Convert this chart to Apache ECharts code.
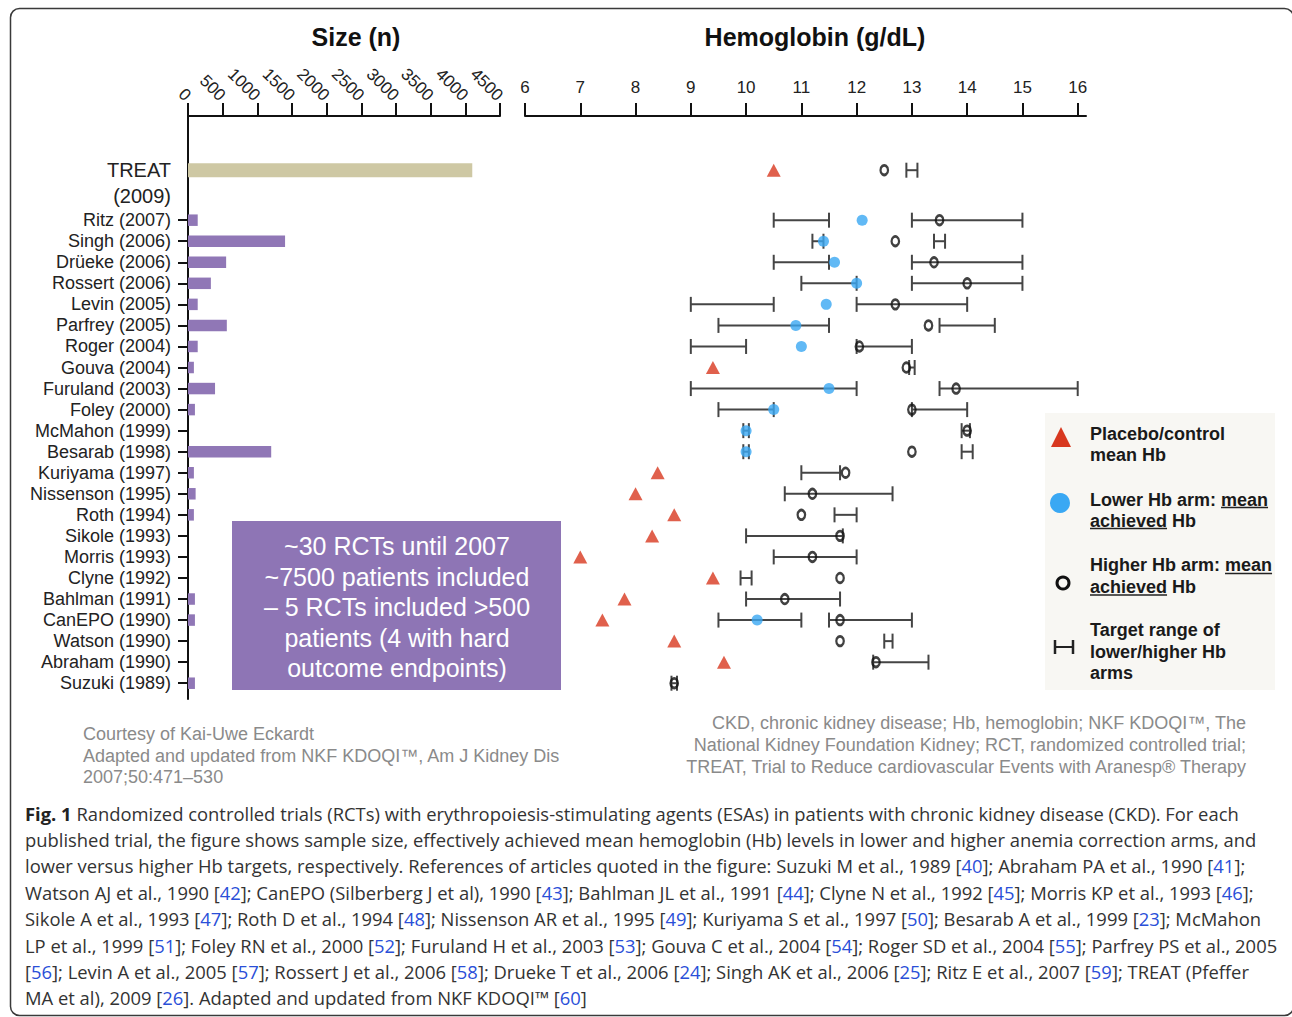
<!DOCTYPE html>
<html><head><meta charset="utf-8">
<script src="https://cdn.jsdelivr.net/npm/echarts@6/dist/echarts.min.js"></script>
<style>html,body{margin:0;padding:0;background:#fff}#c{width:1292px;height:1017px}</style>
</head><body><div id="c"></div>
<script>
// ---------------- data ----------------
const trials = ['TREAT (2009)', 'Ritz (2007)', 'Singh (2006)', 'Drüeke (2006)', 'Rossert (2006)', 'Levin (2005)',
  'Parfrey (2005)', 'Roger (2004)', 'Gouva (2004)', 'Furuland (2003)', 'Foley (2000)', 'McMahon (1999)',
  'Besarab (1998)', 'Kuriyama (1997)', 'Nissenson (1995)', 'Roth (1994)', 'Sikole (1993)', 'Morris (1993)',
  'Clyne (1992)', 'Bahlman (1991)', 'CanEPO (1990)', 'Watson (1990)', 'Abraham (1990)', 'Suzuki (1989)'];
const sizes = [4100, 140, 1400, 550, 330, 140, 560, 140, 85, 390, 100, 0, 1200, 85, 110, 85, 0, 0, 0, 100, 100, 0, 0, 100];
const placeboHb = [10.5, null, null, null, null, null, null, null, 9.4, null, null, null, null, 8.4, 8.0, 8.7, 8.3, 7.0, 9.4, 7.8, 7.4, 8.7, 9.6, null];
const lowAchievedHb = [null, 12.1, 11.4, 11.6, 12.0, 11.45, 10.9, 11.0, null, 11.5, 10.5, 10.0, 10.0, null, null, null, null, null, null, null, 10.2, null, null, null];
const highAchievedHb = [12.5, 13.5, 12.7, 13.4, 14.0, 12.7, 13.3, 12.05, 12.9, 13.8, 13.0, 14.0, 13.0, 11.8, 11.2, 11.0, 11.7, 11.2, 11.7, 10.7, 11.7, 11.7, 12.35, 8.7];
const lowTargetMin = [null, 10.5, 11.2, 10.5, 11.0, 9.0, 9.5, 9.0, null, 9.0, 9.5, 9.95, 9.95, null, null, null, null, null, null, null, 9.5, null, null, null];
const lowTargetMax = [null, 11.5, 11.4, 11.5, 12.0, 10.5, 11.5, 10.0, null, 12.0, 10.5, 10.05, 10.05, null, null, null, null, null, null, null, 11.0, null, null, null];
const highTargetMin = [12.9, 13.0, 13.4, 13.0, 13.0, 12.0, 13.5, 12.0, 12.95, 13.5, 13.0, 13.9, 13.9, 11.0, 10.7, 11.6, 10.0, 10.5, 9.9, 10.0, 11.5, 12.5, 12.3, 8.65];
const highTargetMax = [13.1, 15.0, 13.6, 15.0, 15.0, 14.0, 14.5, 13.0, 13.05, 16.0, 14.0, 14.05, 14.1, 11.7, 12.65, 12.0, 11.75, 12.0, 10.1, 11.7, 13.0, 12.65, 13.3, 8.75];
const sizeTicks = [0, 500, 1000, 1500, 2000, 2500, 3000, 3500, 4000, 4500];
const hbTicks = [6, 7, 8, 9, 10, 11, 12, 13, 14, 15, 16];

// ---------------- layout helpers ----------------
const FONT = '"Liberation Sans", Arial, sans-serif';
const TREAT_ROW = -2.375;
const rowPos = i => (i === 0 ? TREAT_ROW : i - 1);
const rowTicks = trials.slice(1).map((_, i) => i);
const treatLabelPos = TREAT_ROW + 0.62;
const RED = '#d8381f', BLUE = '#3aa8f3', PURPLE = '#9077b6', TAN = '#cec8a4';

function measure(text, font) {
  const c = document.createElement('canvas').getContext('2d');
  c.font = font; return c.measureText(text).width;
}

const barData = sizes.map((s, i) => [s, rowPos(i), i === 0 ? 1 : 0]);
const lowRange = [], highRange = [], placeboPts = [], lowPts = [], highPts = [];
trials.forEach((t, i) => {
  const y = rowPos(i);
  if (lowTargetMin[i] != null) lowRange.push([lowTargetMin[i], lowTargetMax[i], y]);
  if (highTargetMin[i] != null) highRange.push([highTargetMin[i], highTargetMax[i], y]);
  if (placeboHb[i] != null) placeboPts.push([placeboHb[i], y]);
  if (lowAchievedHb[i] != null) lowPts.push([lowAchievedHb[i], y]);
  if (highAchievedHb[i] != null) highPts.push([highAchievedHb[i], y]);
});

function renderRange(params, api) {
  const y = api.value(2);
  const p1 = api.coord([api.value(0), y]);
  const p2 = api.coord([api.value(1), y]);
  const h = 7.5;
  const st = { stroke: '#454545', lineWidth: 2 };
  return { type: 'group', children: [
    { type: 'line', shape: { x1: p1[0], y1: p1[1], x2: p2[0], y2: p2[1] }, style: st },
    { type: 'line', shape: { x1: p1[0], y1: p1[1] - h, x2: p1[0], y2: p1[1] + h }, style: st },
    { type: 'line', shape: { x1: p2[0], y1: p2[1] - h, x2: p2[0], y2: p2[1] + h }, style: st }
  ]};
}

// caption
const capLines = [
  '{b|Fig. 1} Randomized controlled trials (RCTs) with erythropoiesis-stimulating agents (ESAs) in patients with chronic kidney disease (CKD). For each',
  'published trial, the figure shows sample size, effectively achieved mean hemoglobin (Hb) levels in lower and higher anemia correction arms, and',
  'lower versus higher Hb targets, respectively. References of articles quoted in the figure: Suzuki M et al., 1989 [{a|40}]; Abraham PA et al., 1990 [{a|41}];',
  'Watson AJ et al., 1990 [{a|42}]; CanEPO (Silberberg J et al), 1990 [{a|43}]; Bahlman JL et al., 1991 [{a|44}]; Clyne N et al., 1992 [{a|45}]; Morris KP et al., 1993 [{a|46}];',
  'Sikole A et al., 1993 [{a|47}]; Roth D et al., 1994 [{a|48}]; Nissenson AR et al., 1995 [{a|49}]; Kuriyama S et al., 1997 [{a|50}]; Besarab A et al., 1999 [{a|23}]; McMahon',
  'LP et al., 1999 [{a|51}]; Foley RN et al., 2000 [{a|52}]; Furuland H et al., 2003 [{a|53}]; Gouva C et al., 2004 [{a|54}]; Roger SD et al., 2004 [{a|55}]; Parfrey PS et al., 2005',
  '[{a|56}]; Levin A et al., 2005 [{a|57}]; Rossert J et al., 2006 [{a|58}]; Drueke T et al., 2006 [{a|24}]; Singh AK et al., 2006 [{a|25}]; Ritz E et al., 2007 [{a|59}]; TREAT (Pfeffer',
  'MA et al), 2009 [{a|26}]. Adapted and updated from NKF KDOQI™ [{a|60}]'
];
const CAPFONT = '"Open Sans", "Noto Sans", sans-serif';
const cw = measure('Fig. 1', 'bold 100px ' + CAPFONT) +
  measure(' Randomized controlled trials (RCTs) with erythropoiesis-stimulating agents (ESAs) in patients with chronic kidney disease (CKD). For each', '100px ' + CAPFONT);
let capSize = 0.99 * 100 * 1227 / cw; capSize = Math.max(14, Math.min(20, capSize));

// legend underline positions
const LGF = 'bold 18px ' + FONT;
const uLowX = 1090 + measure('Lower Hb arm: ', LGF), uLowW = measure('mean', LGF);
const uHighX = 1090 + measure('Higher Hb arm: ', LGF), uHighW = measure('mean', LGF);
const uAchW = measure('achieved', LGF);

function txt(text, x, y, opts) {
  return { type: 'text', z: 20, style: Object.assign({ text: text, x: x, y: y }, opts) };
}

const graphics = [
  { type: 'rect', z: -10, shape: { x: 10.5, y: 8.5, width: 1283, height: 1007, r: 9 }, style: { fill: 'none', stroke: '#3a3a3a', lineWidth: 1.5 } },
  txt('Size (n)', 356, 37, { font: 'bold 25px ' + FONT, fill: '#111', textAlign: 'center', align: 'center', textVerticalAlign: 'middle', verticalAlign: 'middle' }),
  txt('Hemoglobin (g/dL)', 815, 37, { font: 'bold 25px ' + FONT, fill: '#111', textAlign: 'center', align: 'center', textVerticalAlign: 'middle', verticalAlign: 'middle' }),
  // text box
  { type: 'rect', z: 15, shape: { x: 232, y: 521, width: 329, height: 169 }, style: { fill: '#8e75b5' } },
  txt('~30 RCTs until 2007\n~7500 patients included\n– 5 RCTs included >500\npatients (4 with hard\noutcome endpoints)', 397, 607,
    { font: '25px ' + FONT, fill: '#fff', lineHeight: 30.5, textAlign: 'center', align: 'center', textVerticalAlign: 'middle', verticalAlign: 'middle' }),
  // legend
  { type: 'rect', z: 15, shape: { x: 1045, y: 413, width: 230, height: 277 }, style: { fill: '#f8f7f3' } },
  { type: 'polygon', z: 20, shape: { points: [[1051, 447], [1061, 427], [1071, 447]] }, style: { fill: RED } },
  { type: 'circle', z: 20, shape: { cx: 1060, cy: 503, r: 10 }, style: { fill: BLUE } },
  { type: 'circle', z: 20, shape: { cx: 1063, cy: 583, r: 6 }, style: { fill: 'none', stroke: '#111', lineWidth: 3 } },
  { type: 'line', z: 20, shape: { x1: 1055, y1: 640, x2: 1055, y2: 654 }, style: { stroke: '#222', lineWidth: 2.5 } },
  { type: 'line', z: 20, shape: { x1: 1073, y1: 640, x2: 1073, y2: 654 }, style: { stroke: '#222', lineWidth: 2.5 } },
  { type: 'line', z: 20, shape: { x1: 1055, y1: 647, x2: 1073, y2: 647 }, style: { stroke: '#222', lineWidth: 2 } },
  txt('Placebo/control\nmean Hb', 1090, 423.5, { font: LGF, fill: '#1a1a1a', lineHeight: 21, textVerticalAlign: 'top', verticalAlign: 'top' }),
  txt('Lower Hb arm: mean\nachieved Hb', 1090, 489, { font: LGF, fill: '#1a1a1a', lineHeight: 21, textVerticalAlign: 'top', verticalAlign: 'top' }),
  txt('Higher Hb arm: mean\nachieved Hb', 1090, 554.5, { font: LGF, fill: '#1a1a1a', lineHeight: 21.5, textVerticalAlign: 'top', verticalAlign: 'top' }),
  txt('Target range of\nlower/higher Hb\narms', 1090, 619.5, { font: LGF, fill: '#1a1a1a', lineHeight: 21.5, textVerticalAlign: 'top', verticalAlign: 'top' }),
  { type: 'line', z: 20, shape: { x1: uLowX, y1: 507.5, x2: uLowX + uLowW, y2: 507.5 }, style: { stroke: '#222', lineWidth: 1.5 } },
  { type: 'line', z: 20, shape: { x1: 1090, y1: 528.5, x2: 1090 + uAchW, y2: 528.5 }, style: { stroke: '#222', lineWidth: 1.5 } },
  { type: 'line', z: 20, shape: { x1: uHighX, y1: 573.5, x2: uHighX + uHighW, y2: 573.5 }, style: { stroke: '#222', lineWidth: 1.5 } },
  { type: 'line', z: 20, shape: { x1: 1090, y1: 595, x2: 1090 + uAchW, y2: 595 }, style: { stroke: '#222', lineWidth: 1.5 } },
  // footnotes
  txt('Courtesy of Kai-Uwe Eckardt\nAdapted and updated from NKF KDOQI™, Am J Kidney Dis\n2007;50:471–530', 83, 723.5,
    { font: '18px ' + FONT, fill: '#8a8a8a', lineHeight: 21.5, textVerticalAlign: 'top', verticalAlign: 'top' }),
  txt('CKD, chronic kidney disease; Hb, hemoglobin; NKF KDOQI™, The\nNational Kidney Foundation Kidney; RCT, randomized controlled trial;\nTREAT, Trial to Reduce cardiovascular Events with Aranesp® Therapy', 1246, 712.3,
    { font: '18px ' + FONT, fill: '#8a8a8a', lineHeight: 22, textAlign: 'right', align: 'right', textVerticalAlign: 'top', verticalAlign: 'top' }),
  // caption
  txt(capLines.join('\n'), 25, 799.8, {
    font: capSize + 'px ' + CAPFONT, fill: '#333', lineHeight: 26.4, textVerticalAlign: 'top', verticalAlign: 'top',
    rich: {
      b: { fontWeight: 'bold', fontSize: capSize, fontFamily: CAPFONT, fill: '#222', color: '#222', lineHeight: 26.4 },
      a: { fontSize: capSize, fontFamily: CAPFONT, fill: '#2a4fd8', color: '#2a4fd8', lineHeight: 26.4 }
    }
  })
];

const axisLineStyle = { color: '#111', width: 2 };
const option = {
  animation: false,
  backgroundColor: '#fff',
  grid: [
    { left: 188, top: 116, width: 312, height: 583 },
    { left: 525, top: 116, width: 561, height: 583 }
  ],
  xAxis: [
    { gridIndex: 0, type: 'value', position: 'top', min: 0, max: 4500, interval: 500,
      axisLine: { show: true, onZero: false, lineStyle: axisLineStyle },
      axisTick: { show: true, length: 13, customValues: sizeTicks, lineStyle: axisLineStyle },
      axisLabel: { customValues: sizeTicks, rotate: 45, margin: 18, fontSize: 17, color: '#222', fontFamily: FONT,
        formatter: function (v) { return String(v); } },
      splitLine: { show: false } },
    { gridIndex: 1, type: 'value', position: 'top', min: 6, max: 16.15,
      axisLine: { show: true, onZero: false, lineStyle: axisLineStyle },
      axisTick: { show: true, length: 13, customValues: hbTicks, lineStyle: axisLineStyle },
      axisLabel: { customValues: hbTicks, margin: 20, fontSize: 17, color: '#222', fontFamily: FONT },
      splitLine: { show: false } }
  ],
  yAxis: [
    { gridIndex: 0, type: 'value', inverse: true, min: -4.95, max: 22.75,
      axisLine: { show: true, onZero: false, lineStyle: axisLineStyle },
      axisTick: { show: true, length: 10, customValues: rowTicks, lineStyle: axisLineStyle },
      axisLabel: { customValues: [treatLabelPos].concat(rowTicks), margin: 17, fontSize: 18, color: '#222', fontFamily: FONT,
        formatter: function (v) {
          if (Math.abs(v - treatLabelPos) < 1e-6) return trials[0].split(' ').map(s => '{t|' + s + '}').join('\n');
          return trials[Math.round(v) + 1];
        },
        rich: { t: { fontSize: 20, lineHeight: 26, fontFamily: FONT, color: '#222' } } },
      splitLine: { show: false } },
    { gridIndex: 1, type: 'value', inverse: true, min: -4.95, max: 22.75, show: false }
  ],
  series: [
    { type: 'custom', xAxisIndex: 0, yAxisIndex: 0, data: barData, encode: { x: 0, y: 1 }, z: 1,
      renderItem: function (params, api) {
        const y = api.value(1);
        const a = api.coord([0, y]), b = api.coord([api.value(0), y]);
        const treat = api.value(2) === 1;
        const h = treat ? 14 : 11.5;
        return { type: 'rect', shape: { x: a[0], y: a[1] - h / 2, width: b[0] - a[0], height: h },
          style: { fill: treat ? TAN : PURPLE } };
      } },
    { type: 'custom', name: 'Lower target', xAxisIndex: 1, yAxisIndex: 1, data: lowRange, encode: { x: [0, 1], y: 2 }, renderItem: renderRange, z: 2 },
    { type: 'custom', name: 'Higher target', xAxisIndex: 1, yAxisIndex: 1, data: highRange, encode: { x: [0, 1], y: 2 }, renderItem: renderRange, z: 2 },
    { type: 'scatter', name: 'Placebo', xAxisIndex: 1, yAxisIndex: 1, data: placeboPts, symbol: 'triangle', symbolSize: [14, 13],
      itemStyle: { color: RED }, z: 3 },
    { type: 'scatter', name: 'Lower achieved', xAxisIndex: 1, yAxisIndex: 1, data: lowPts, symbol: 'circle', symbolSize: 11,
      itemStyle: { color: BLUE }, z: 3 },
    { type: 'scatter', name: 'Higher achieved', xAxisIndex: 1, yAxisIndex: 1, data: highPts, symbol: 'circle', symbolSize: [7.5, 9.5],
      itemStyle: { color: 'rgba(255,255,255,0)', borderColor: '#111', borderWidth: 2.5 }, z: 4 }
  ],
  graphic: { elements: graphics }
};

const chart = echarts.init(document.getElementById('c'), null, { renderer: 'svg', width: 1292, height: 1017 });
chart.setOption(option);
</script>
</body></html>
